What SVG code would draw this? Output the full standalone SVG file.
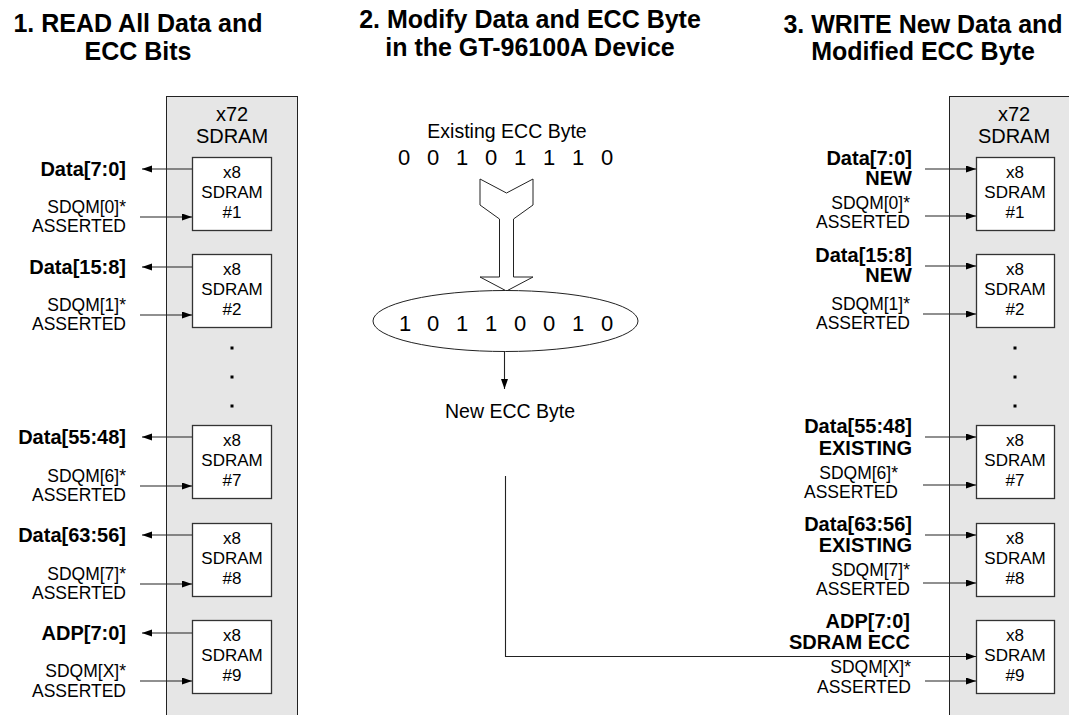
<svg xmlns="http://www.w3.org/2000/svg" width="1069" height="715" viewBox="0 0 1069 715">
<style>
text{font-family:"Liberation Sans",Arial,sans-serif;fill:#000}
.title{font-size:25px;font-weight:bold;text-anchor:middle}
.lbl{font-size:20px;font-weight:bold;text-anchor:end}
.sm{font-size:17.5px;text-anchor:end}
.bx{font-size:17px;text-anchor:middle}
.hd{font-size:20px;text-anchor:middle}
.mid{font-size:19.5px;text-anchor:middle}
.bits{font-size:22px;text-anchor:middle}
.panel{fill:#e6e6e6;stroke:#222;stroke-width:1}
.box{fill:#fff;stroke:#333;stroke-width:1.3}
.ln{fill:none;stroke:#222;stroke-width:1.1}
.dot{fill:#000}
</style>
<defs>
<marker id="ah" markerUnits="userSpaceOnUse" markerWidth="10" markerHeight="8" refX="10" refY="3.5" orient="auto">
<path d="M0,0 L10,3.5 L0,7 z" fill="#000"/>
</marker>
</defs>

<g id="titles">
<text class="title" x="138" y="32">1. READ All Data and</text>
<text class="title" x="138" y="60">ECC Bits</text>
<text class="title" x="530" y="28">2. Modify Data and ECC Byte</text>
<text class="title" x="530" y="56">in the GT-96100A Device</text>
<text class="title" x="923" y="33">3. WRITE New Data and</text>
<text class="title" x="923" y="60">Modified ECC Byte</text>
</g>

<g id="left-module">
<rect class="panel" x="166.5" y="96.5" width="131" height="640"/>
<text class="hd" x="232" y="121">x72</text>
<text class="hd" x="232" y="143">SDRAM</text>
<rect class="dot" x="230.5" y="346.5" width="3" height="3"/>
<rect class="dot" x="230.5" y="375.5" width="3" height="3"/>
<rect class="dot" x="230.5" y="404.5" width="3" height="3"/>
</g>
<g id="left-sdram1"><rect class="box" x="192.5" y="157.5" width="79" height="73"/><text class="bx" x="232" y="178">x8</text><text class="bx" x="232" y="198">SDRAM</text><text class="bx" x="232" y="218">#1</text></g>
<g id="left-sdram2"><rect class="box" x="192.5" y="254.5" width="79" height="73"/><text class="bx" x="232" y="275">x8</text><text class="bx" x="232" y="295">SDRAM</text><text class="bx" x="232" y="315">#2</text></g>
<g id="left-sdram7"><rect class="box" x="192.5" y="425.5" width="79" height="73"/><text class="bx" x="232" y="446">x8</text><text class="bx" x="232" y="466">SDRAM</text><text class="bx" x="232" y="486">#7</text></g>
<g id="left-sdram8"><rect class="box" x="192.5" y="523.5" width="79" height="73"/><text class="bx" x="232" y="544">x8</text><text class="bx" x="232" y="564">SDRAM</text><text class="bx" x="232" y="584">#8</text></g>
<g id="left-sdram9"><rect class="box" x="192.5" y="620.5" width="79" height="73"/><text class="bx" x="232" y="641">x8</text><text class="bx" x="232" y="661">SDRAM</text><text class="bx" x="232" y="681">#9</text></g>

<g id="left-labels">
<text class="lbl" x="126" y="176">Data[7:0]</text>
<text class="sm" x="126" y="213">SDQM[0]*</text>
<text class="sm" x="126" y="232">ASSERTED</text>
<text class="lbl" x="126" y="274">Data[15:8]</text>
<text class="sm" x="126" y="311">SDQM[1]*</text>
<text class="sm" x="126" y="330">ASSERTED</text>
<text class="lbl" x="126" y="444">Data[55:48]</text>
<text class="sm" x="126" y="482">SDQM[6]*</text>
<text class="sm" x="126" y="501">ASSERTED</text>
<text class="lbl" x="126" y="542">Data[63:56]</text>
<text class="sm" x="126" y="580">SDQM[7]*</text>
<text class="sm" x="126" y="599">ASSERTED</text>
<text class="lbl" x="126" y="640">ADP[7:0]</text>
<text class="sm" x="126" y="677">SDQM[X]*</text>
<text class="sm" x="126" y="697">ASSERTED</text>
</g>

<g id="right-module">
<rect class="panel" x="949.5" y="96.5" width="140" height="640"/>
<text class="hd" x="1014" y="121">x72</text>
<text class="hd" x="1014" y="143">SDRAM</text>
<rect class="dot" x="1013.5" y="346.5" width="3" height="3"/>
<rect class="dot" x="1013.5" y="375.5" width="3" height="3"/>
<rect class="dot" x="1013.5" y="404.5" width="3" height="3"/>
</g>
<g id="right-sdram1"><rect class="box" x="976.5" y="157.5" width="78" height="73"/><text class="bx" x="1015" y="178">x8</text><text class="bx" x="1015" y="198">SDRAM</text><text class="bx" x="1015" y="218">#1</text></g>
<g id="right-sdram2"><rect class="box" x="976.5" y="254.5" width="78" height="73"/><text class="bx" x="1015" y="275">x8</text><text class="bx" x="1015" y="295">SDRAM</text><text class="bx" x="1015" y="315">#2</text></g>
<g id="right-sdram7"><rect class="box" x="976.5" y="425.5" width="78" height="73"/><text class="bx" x="1015" y="446">x8</text><text class="bx" x="1015" y="466">SDRAM</text><text class="bx" x="1015" y="486">#7</text></g>
<g id="right-sdram8"><rect class="box" x="976.5" y="523.5" width="78" height="73"/><text class="bx" x="1015" y="544">x8</text><text class="bx" x="1015" y="564">SDRAM</text><text class="bx" x="1015" y="584">#8</text></g>
<g id="right-sdram9"><rect class="box" x="976.5" y="620.5" width="78" height="73"/><text class="bx" x="1015" y="641">x8</text><text class="bx" x="1015" y="661">SDRAM</text><text class="bx" x="1015" y="681">#9</text></g>

<g id="right-labels">
<text class="lbl" x="912" y="165">Data[7:0]</text>
<text class="lbl" x="912" y="185">NEW</text>
<text class="sm" x="910" y="209">SDQM[0]*</text>
<text class="sm" x="910" y="228">ASSERTED</text>
<text class="lbl" x="912" y="262">Data[15:8]</text>
<text class="lbl" x="912" y="282">NEW</text>
<text class="sm" x="910" y="310">SDQM[1]*</text>
<text class="sm" x="910" y="329">ASSERTED</text>
<text class="lbl" x="912" y="433">Data[55:48]</text>
<text class="lbl" x="912" y="455">EXISTING</text>
<text class="sm" x="898" y="479">SDQM[6]*</text>
<text class="sm" x="898" y="498">ASSERTED</text>
<text class="lbl" x="912" y="531">Data[63:56]</text>
<text class="lbl" x="912" y="552">EXISTING</text>
<text class="sm" x="910" y="576">SDQM[7]*</text>
<text class="sm" x="910" y="595">ASSERTED</text>
<text class="lbl" x="910" y="628">ADP[7:0]</text>
<text class="lbl" x="910" y="649">SDRAM ECC</text>
<text class="sm" x="911" y="673">SDQM[X]*</text>
<text class="sm" x="911" y="693">ASSERTED</text>
</g>

<g id="ecc-logic">
<text class="mid" x="507" y="138">Existing ECC Byte</text>
<text class="bits" x="404 433 462 491 520 549 578 607" y="165">00101110</text>
<polygon points="480,179 506.5,193 533,179 533,205 513.5,219 513.5,277 533,277 506.5,291 480,277 499.5,277 499.5,219 480,205" fill="#fff" stroke="#222" stroke-width="1"/>
<ellipse cx="505.5" cy="321" rx="132.5" ry="30.5" fill="#fff" stroke="#222" stroke-width="1"/>
<text class="bits" x="405 433 462 491 520 549 578 607" y="331">10110010</text>
<text class="mid" x="510" y="418">New ECC Byte</text>
</g>

<g id="connectors">
<line class="ln" x1="192" y1="169" x2="142" y2="169" marker-end="url(#ah)"/>
<line class="ln" x1="140" y1="217" x2="192" y2="217" marker-end="url(#ah)"/>
<line class="ln" x1="192" y1="267" x2="142" y2="267" marker-end="url(#ah)"/>
<line class="ln" x1="140" y1="315" x2="192" y2="315" marker-end="url(#ah)"/>
<line class="ln" x1="192" y1="437" x2="142" y2="437" marker-end="url(#ah)"/>
<line class="ln" x1="140" y1="486" x2="192" y2="486" marker-end="url(#ah)"/>
<line class="ln" x1="192" y1="535" x2="142" y2="535" marker-end="url(#ah)"/>
<line class="ln" x1="140" y1="584" x2="192" y2="584" marker-end="url(#ah)"/>
<line class="ln" x1="192" y1="633" x2="142" y2="633" marker-end="url(#ah)"/>
<line class="ln" x1="140" y1="681" x2="192" y2="681" marker-end="url(#ah)"/>

<line class="ln" x1="925" y1="169" x2="976" y2="169" marker-end="url(#ah)"/>
<line class="ln" x1="925" y1="216" x2="976" y2="216" marker-end="url(#ah)"/>
<line class="ln" x1="925" y1="266" x2="976" y2="266" marker-end="url(#ah)"/>
<line class="ln" x1="923" y1="314" x2="976" y2="314" marker-end="url(#ah)"/>
<line class="ln" x1="925" y1="437" x2="976" y2="437" marker-end="url(#ah)"/>
<line class="ln" x1="923" y1="485" x2="976" y2="485" marker-end="url(#ah)"/>
<line class="ln" x1="925" y1="535" x2="976" y2="535" marker-end="url(#ah)"/>
<line class="ln" x1="923" y1="583" x2="976" y2="583" marker-end="url(#ah)"/>
<line class="ln" x1="925" y1="681" x2="976" y2="681" marker-end="url(#ah)"/>

<line class="ln" x1="504.5" y1="352" x2="504.5" y2="389" marker-end="url(#ah)"/>
<path class="ln" d="M505.5,476 V656.5 H976" marker-end="url(#ah)"/>
</g>
</svg>
